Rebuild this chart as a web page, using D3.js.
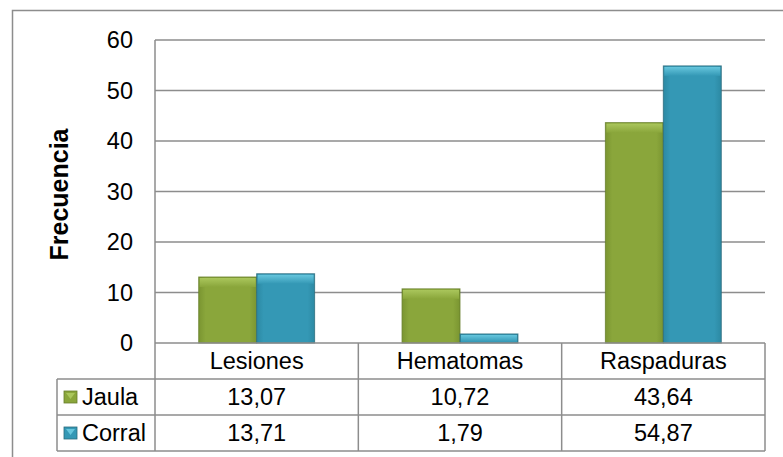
<!DOCTYPE html>
<html><head><meta charset="utf-8">
<script src="https://cdn.jsdelivr.net/npm/d3@7"></script>
<style>html,body{margin:0;padding:0;background:#fff}svg{display:block}</style>
</head><body>
<script>
const categories = ["Lesiones", "Hematomas", "Raspaduras"];
const seriesNames = ["Jaula", "Corral"];
const jaula = [13.07, 10.72, 43.64];
const corral = [13.71, 1.79, 54.87];
const tableLabels = [["13,07", "10,72", "43,64"], ["13,71", "1,79", "54,87"]];
const yTicks = [0, 10, 20, 30, 40, 50, 60];
const yTitle = "Frecuencia";

const W = 783, H = 457;
const FONT = "'Liberation Sans', Arial, sans-serif";
const FS = 23.5;
const lineCol = "#8d8d8d";
const svg = d3.select("body").append("svg").attr("width", W).attr("height", H);
svg.append("rect").attr("width", W).attr("height", H).attr("fill", "#fff");

const palettes = [
  {main: "#8aa63b", edge: "#7a9531", top: "#aac65c", stroke: "#667e2b"},
  {main: "#3498b5", edge: "#2c89a3", top: "#66c6dd", stroke: "#2a6b7d"}
];
const defs = svg.append("defs");
palettes.forEach((p, i) => {
  const g = defs.append("linearGradient").attr("id", "g" + i).attr("x1", 0).attr("x2", 1).attr("y1", 0).attr("y2", 0);
  g.append("stop").attr("offset", "0%").attr("stop-color", p.edge);
  g.append("stop").attr("offset", "12%").attr("stop-color", p.main);
  g.append("stop").attr("offset", "88%").attr("stop-color", p.main);
  g.append("stop").attr("offset", "100%").attr("stop-color", p.edge);
  const t = defs.append("linearGradient").attr("id", "t" + i).attr("x1", 0).attr("x2", 0).attr("y1", 0).attr("y2", 1);
  t.append("stop").attr("offset", "0%").attr("stop-color", p.top);
  t.append("stop").attr("offset", "100%").attr("stop-color", p.main);
});

// outer frame (right/bottom edges off-canvas)
svg.append("path").attr("d", `M12.5,${H}V10.5H${W}`).attr("fill", "none").attr("stroke", lineCol).attr("stroke-width", 1.5);

const plotL = 155, plotR = 765, plotT = 40, plotB = 343;
const y = d3.scaleLinear().domain([0, 60]).range([plotB, plotT]);
const x = d3.scaleBand().domain(categories).range([plotL, plotR]).paddingInner(0.43).paddingOuter(0.215);
const xs = d3.scaleBand().domain(seriesNames).range([0, x.bandwidth()]);

// gridlines
svg.append("g").selectAll("line").data(yTicks.filter(d => d > 0)).join("line")
  .attr("x1", plotL).attr("x2", plotR).attr("y1", d => y(d)).attr("y2", d => y(d))
  .attr("stroke", lineCol).attr("stroke-width", 1.5);

// y axis via d3.axisLeft
const yAxis = svg.append("g").attr("transform", `translate(${plotL},0)`)
  .call(d3.axisLeft(y).tickValues(yTicks).tickSize(0).tickPadding(22));
yAxis.select(".domain").remove();
yAxis.selectAll("text").attr("font-family", FONT).attr("font-size", FS).attr("fill", "#000");

// y title
svg.append("text").attr("transform", `translate(68,${(plotT + plotB) / 2 + 3}) rotate(-90)`)
  .attr("text-anchor", "middle").attr("font-family", FONT).attr("font-weight", "bold").attr("font-size", 25)
  .text(yTitle);

// bars
const data = [jaula, corral];
seriesNames.forEach((s, si) => {
  const g = svg.append("g");
  const bars = g.selectAll("g").data(categories.map((c, ci) => ({c, v: data[si][ci]}))).join("g");
  bars.append("rect")
    .attr("x", d => x(d.c) + xs(s)).attr("width", xs.bandwidth())
    .attr("y", d => y(d.v)).attr("height", d => y(0) - y(d.v))
    .attr("fill", `url(#g${si})`).attr("stroke", palettes[si].stroke).attr("stroke-width", 1).attr("stroke-opacity", 0.8);
  bars.append("rect")
    .attr("x", d => x(d.c) + xs(s) + 1).attr("width", xs.bandwidth() - 2)
    .attr("y", d => y(d.v) + 1).attr("height", d => Math.min(9, Math.max(0, y(0) - y(d.v) - 2)))
    .attr("fill", `url(#t${si})`);
});

// data table
const rowH = 36;
const rows = [plotB, plotB + rowH, plotB + 2 * rowH, plotB + 3 * rowH];
const legL = 57;
const tg = svg.append("g").attr("stroke", lineCol).attr("stroke-width", 1.5).attr("fill", "none");
tg.append("line").attr("x1", plotL).attr("x2", plotR).attr("y1", rows[0]).attr("y2", rows[0]);
[rows[1], rows[2], rows[3]].forEach(r => tg.append("line").attr("x1", legL).attr("x2", plotR).attr("y1", r).attr("y2", r));
tg.append("line").attr("x1", plotL).attr("x2", plotL).attr("y1", plotT).attr("y2", rows[3]);
tg.append("line").attr("x1", legL).attr("x2", legL).attr("y1", rows[1]).attr("y2", rows[3]);
const step = x.step();
categories.forEach((c, i) => {
  const xr = plotL + step * (i + 1);
  tg.append("line").attr("x1", xr).attr("x2", xr).attr("y1", rows[0]).attr("y2", rows[3]);
});

const txt = svg.append("g").attr("font-family", FONT).attr("font-size", FS).attr("fill", "#000").attr("text-anchor", "middle");
categories.forEach((c, i) => {
  const cx = x(c) + x.bandwidth() / 2;
  txt.append("text").attr("x", cx).attr("y", rows[0] + rowH / 2).attr("dy", "0.36em").text(c);
  tableLabels.forEach((row, ri) => {
    txt.append("text").attr("x", cx).attr("y", rows[ri + 1] + rowH / 2).attr("dy", "0.36em").text(row[i]);
  });
});
seriesNames.forEach((s, si) => {
  const cy = rows[si + 1] + rowH / 2;
  const mk = svg.append("g");
  mk.append("rect").attr("x", 64).attr("y", cy - 6).attr("width", 13).attr("height", 12)
    .attr("fill", palettes[si].main).attr("stroke", palettes[si].stroke).attr("stroke-width", 0.8);
  mk.append("path").attr("d", `M66,${cy - 4}H75L70.5,${cy + 2}Z`).attr("fill", palettes[si].top);
  svg.append("text").attr("x", 82).attr("y", cy).attr("dy", "0.36em")
    .attr("font-family", FONT).attr("font-size", FS).text(s);
});
</script>
</body></html>
